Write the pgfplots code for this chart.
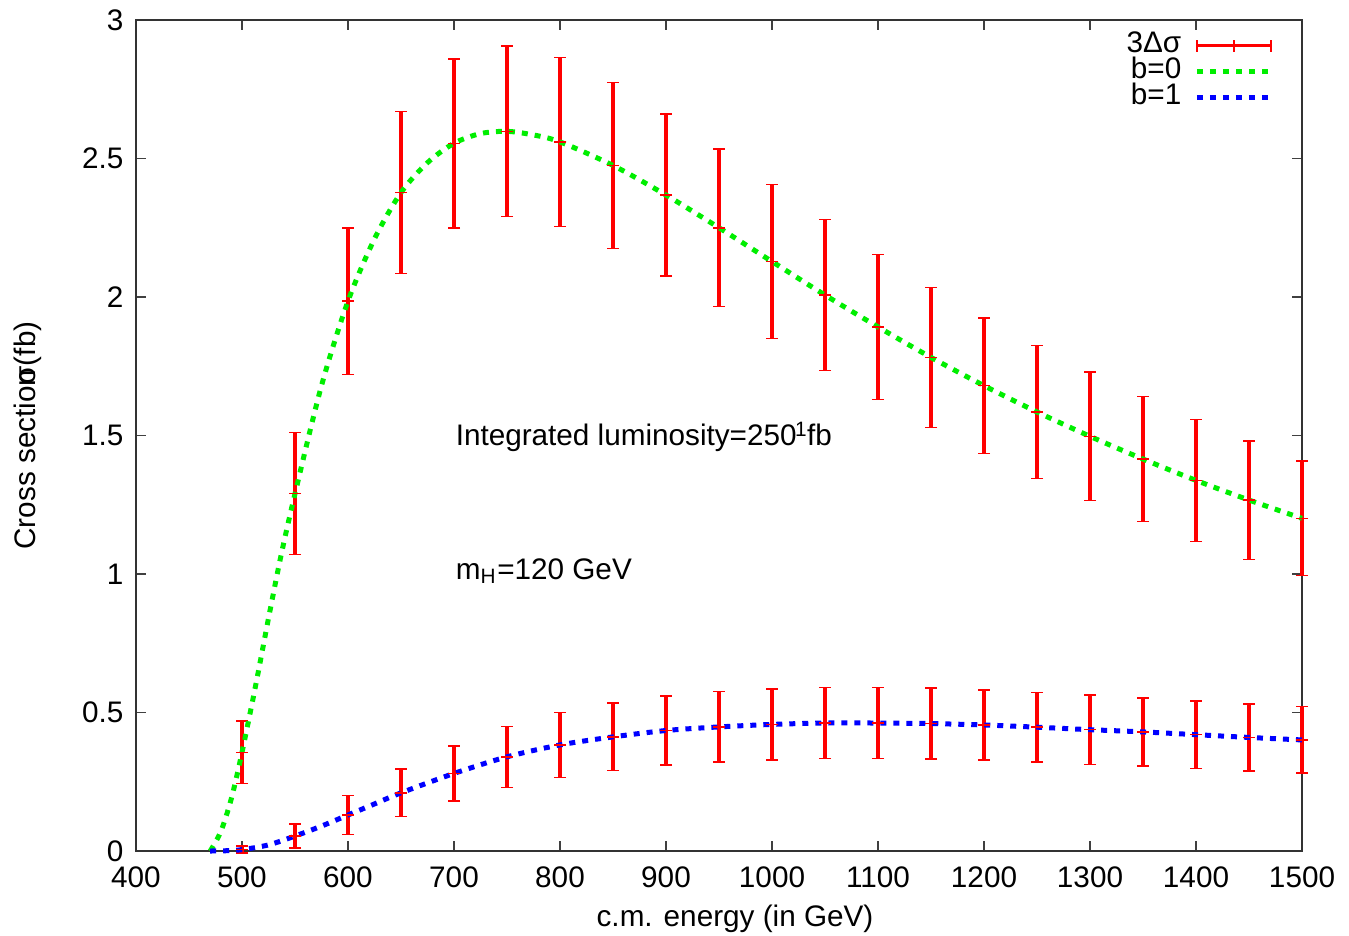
\documentclass[border=0pt]{standalone}
\usepackage{pgfplots}
\pgfplotsset{compat=1.18}
\usepackage{pgfplotstable}
\usepackage{fontspec}
\setmainfont{Liberation Sans}
\definecolor{gpgreen}{RGB}{0,238,0}
\definecolor{gpblue}{RGB}{0,0,255}
\definecolor{gpred}{RGB}{255,0,0}
\newcommand{\gpfont}{\fontsize{8.45}{10}\selectfont}

\pgfplotstableread{
x y e
500 0.356 0.113
550 1.29 0.22
600 1.985 0.265
650 2.377 0.293
700 2.555 0.305
750 2.598 0.308
800 2.56 0.305
850 2.475 0.30
900 2.368 0.292
950 2.25 0.285
1000 2.128 0.278
1050 2.007 0.272
1100 1.892 0.262
1150 1.782 0.253
1200 1.68 0.245
1250 1.585 0.24
1300 1.497 0.232
1350 1.415 0.226
1400 1.338 0.22
1450 1.267 0.214
1500 1.201 0.207
}\errzero

\pgfplotstableread{
x y e
500 0.005 0.013
550 0.054 0.043
600 0.13 0.07
650 0.21 0.086
700 0.28 0.10
750 0.34 0.11
800 0.383 0.117
850 0.412 0.122
900 0.435 0.125
950 0.448 0.127
1000 0.457 0.128
1050 0.462 0.128
1100 0.462 0.128
1150 0.46 0.128
1200 0.455 0.127
1250 0.447 0.126
1300 0.438 0.125
1350 0.43 0.123
1400 0.42 0.122
1450 0.41 0.121
1500 0.401 0.12
}\errone

\begin{document}
\begin{tikzpicture}[font=\gpfont]
\useasboundingbox (-13.6mm,-8.4mm) rectangle (121.3mm,85.1mm);
\begin{axis}[
  at={(0,0)}, anchor=south west,
  scale only axis, width=116.6mm, height=83.1mm,
  xmin=400, xmax=1500, ymin=0, ymax=3,
  xtick={400,500,600,700,800,900,1000,1100,1200,1300,1400,1500},
  ytick={0,0.5,1,1.5,2,2.5,3},
  tick align=inside, major tick length=1mm,
  every tick/.style={black!75, line width=0.4pt},
  axis line style={black!80, line width=0.5pt},
  /pgf/number format/assume math mode=true,
  /pgf/number format/1000 sep={},
  tick label style={font=\gpfont},
  xticklabel style={inner sep=0pt, anchor=north, yshift=-1.5mm},
  yticklabel style={inner sep=0pt, anchor=east, xshift=-1.2mm},
  xlabel={c.m. energy (in GeV)},
  ylabel={Cross section\kern-0.5em σ(fb)},
  label style={font=\gpfont},
  xlabel style={at={(axis description cs:0.5,0)}, anchor=center, yshift=-6.8mm, xshift=1.6mm},
  ylabel style={at={(axis description cs:0,0.5)}, anchor=center, yshift=10.8mm},
  clip=false,
  legend cell align=right, legend plot pos=right,
  legend style={at={(1,1)}, anchor=north east, xshift=-2.8mm, yshift=-1.25mm,
    draw=none, fill=none, inner sep=0pt, row sep=0.1mm, column sep=1.3mm,
    nodes={inner sep=0pt, text height=1.95mm, text depth=0.55mm, font=\gpfont}},
]
\addplot[only marks, mark=-, mark size=0.6mm, mark options={gpred, line width=0.15mm},
  legend image code/.code={
    \draw[gpred, line width=0.33mm] (0mm,0mm) -- (7.4mm,0mm);
    \draw[gpred, line width=0.15mm] (0mm,-0.6mm) -- (0mm,0.6mm) (3.7mm,-0.6mm) -- (3.7mm,0.6mm) (7.4mm,-0.6mm) -- (7.4mm,0.6mm);
  },
  error bars/.cd, y dir=both, y explicit,
  error bar style={gpred, line width=0.33mm},
  error mark options={gpred, line width=0.15mm, mark size=0.6mm, rotate=90}]
  table[x=x, y=y, y error=e] {\errzero};
\addlegendentry{3Δσ}
\addplot[forget plot, only marks, mark=-, mark size=0.6mm, mark options={gpred, line width=0.15mm},
  error bars/.cd, y dir=both, y explicit,
  error bar style={gpred, line width=0.33mm},
  error mark options={gpred, line width=0.15mm, mark size=0.6mm, rotate=90}]
  table[x=x, y=y, y error=e] {\errone};

\addplot[gpgreen, line width=0.5mm, dash pattern=on 0.6mm off 0.7mm, smooth, no markers,
  legend image code/.code={\draw[gpgreen, line width=0.5mm, dash pattern=on 0.6mm off 0.7mm] (0mm,0mm) -- (7.4mm,0mm);}]
  coordinates {
  (470,0) (480,0.07) (490,0.19) (500,0.356) (513,0.60) (525,0.84) (537,1.07) (550,1.29)
  (575,1.68) (600,1.985) (625,2.21) (650,2.377) (675,2.485) (700,2.555) (725,2.59) (750,2.598)
  (775,2.585) (800,2.56) (850,2.475) (900,2.368) (950,2.25) (1000,2.128) (1050,2.007)
  (1100,1.892) (1150,1.782) (1200,1.68) (1250,1.585) (1300,1.497) (1350,1.415)
  (1400,1.338) (1450,1.267) (1500,1.201)
  };
\addlegendentry{b=0}

\addplot[gpblue, line width=0.5mm, dash pattern=on 0.6mm off 0.7mm, smooth, no markers,
  legend image code/.code={\draw[gpblue, line width=0.5mm, dash pattern=on 0.6mm off 0.7mm] (0mm,0mm) -- (7.4mm,0mm);}]
  coordinates {
  (470,0) (485,0.001) (500,0.005) (525,0.022) (550,0.054) (575,0.09) (600,0.13) (625,0.17)
  (650,0.21) (700,0.28) (750,0.34) (800,0.383) (850,0.412) (900,0.435) (950,0.448)
  (1000,0.457) (1050,0.462) (1100,0.462) (1150,0.46) (1200,0.455) (1250,0.447)
  (1300,0.438) (1350,0.43) (1400,0.42) (1450,0.41) (1500,0.401)
  };
\addlegendentry{b=1}

\node[anchor=west, inner sep=0pt] at (axis cs:701,1.495) {Integrated luminosity=250\kern-0.05em\textsuperscript{1}\kern-0.05em fb};
\node[anchor=west, inner sep=0pt] at (axis cs:701,1.01) {m\textsubscript{H}=120 GeV};
\end{axis}
\end{tikzpicture}
\end{document}
